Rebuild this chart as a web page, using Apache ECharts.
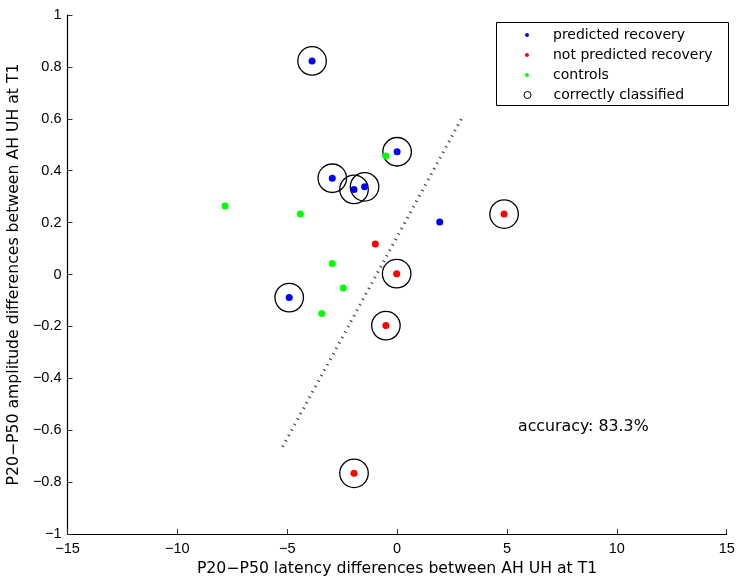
<!DOCTYPE html>
<html>
<head>
<meta charset="utf-8">
<script src="https://cdn.jsdelivr.net/npm/echarts@6/dist/echarts.min.js"></script>
<style>
html,body{margin:0;padding:0;background:#fff;}
#chart{width:736px;height:577px;}
</style>
</head>
<body>
<div id="chart"></div>
<script>
// ---- data ----
var predictedX = [-3.87, 0.0, -2.95, -1.96, -1.48, 1.94, -4.91];
var predictedY = [0.823, 0.473, 0.371, 0.328, 0.338, 0.202, -0.089];
var predictedCorrect = [1, 1, 1, 1, 1, 0, 1];

var notPredictedX = [-0.99, -0.02, -0.51, 4.87, -1.96];
var notPredictedY = [0.118, 0.003, -0.197, 0.233, -0.766];
var notPredictedCorrect = [0, 1, 1, 1, 1];

var controlsX = [-0.51, -4.40, -7.83, -2.95, -2.45, -3.43];
var controlsY = [0.457, 0.233, 0.264, 0.042, -0.052, -0.150];

var boundaryX = [-5.21, 2.94];
var boundaryY = [-0.664, 0.602];

var xTicks = [-15, -10, -5, 0, 5, 10, 15];
var yTicks = [-1, -0.8, -0.6, -0.4, -0.2, 0, 0.2, 0.4, 0.6, 0.8, 1];

var accuracyText = 'accuracy: 83.3%';
var seriesNames = ['predicted recovery', 'not predicted recovery', 'controls', 'correctly classified'];

// ---- build ----
function pairs(xs, ys) { return xs.map(function (x, i) { return [x, ys[i]]; }); }
function correctPairs(xs, ys, flags) {
  var out = [];
  xs.forEach(function (x, i) { if (flags[i]) out.push([x, ys[i]]); });
  return out;
}
var circled = correctPairs(predictedX, predictedY, predictedCorrect)
  .concat(correctPairs(notPredictedX, notPredictedY, notPredictedCorrect));

function fmt(v) {
  var s = String(Math.round(v * 10) / 10);
  return s.replace('-', '\u2212');
}

var tickFont = 'Liberation Sans';
var textFont = 'DejaVu Sans';

var chart = echarts.init(document.getElementById('chart'), null, { renderer: 'canvas' });
var option = {
  backgroundColor: '#fff',
  animation: false,
  grid: { left: 67.5, right: 9.3, top: 15, bottom: 43, containLabel: false, outerBoundsMode: 'none' },
  xAxis: {
    type: 'value', min: xTicks[0], max: xTicks[xTicks.length - 1], interval: 5,
    name: 'P20\u2212P50 latency differences between AH UH at T1',
    nameLocation: 'middle', nameGap: 22,
    nameTextStyle: { fontFamily: textFont, fontSize: 15.7, color: '#000' },
    axisLine: { show: true, onZero: false, lineStyle: { color: '#000', width: 1.2 } },
    axisTick: { show: true, inside: true, length: 5, lineStyle: { color: '#333', width: 1 } },
    axisLabel: { show: true, margin: 7, color: '#000', fontFamily: tickFont, fontSize: 14.5, formatter: fmt, showMinLabel: true, showMaxLabel: true },
    splitLine: { show: false }
  },
  yAxis: {
    type: 'value', min: yTicks[0], max: yTicks[yTicks.length - 1], interval: 0.2,
    name: 'P20\u2212P50 amplitude differences between AH UH at T1',
    nameLocation: 'middle', nameGap: 35,
    nameTextStyle: { fontFamily: textFont, fontSize: 15.7, color: '#000' },
    axisLine: { show: true, onZero: false, lineStyle: { color: '#000', width: 1.2 } },
    axisTick: { show: true, inside: true, length: 5, lineStyle: { color: '#333', width: 1 } },
    axisLabel: { show: true, margin: 6, color: '#000', fontFamily: tickFont, fontSize: 14.5, formatter: fmt, showMinLabel: true, showMaxLabel: true },
    splitLine: { show: false }
  },
  legend: [
    {
      data: [
        { name: seriesNames[0], icon: 'circle' },
        { name: seriesNames[1], icon: 'circle' },
        { name: seriesNames[2], icon: 'circle' }
      ],
      orient: 'vertical', left: 525, top: 25, padding: 0,
      itemWidth: 4, itemHeight: 4, itemGap: 0,
      selectedMode: false,
      textStyle: { fontFamily: textFont, fontSize: 14, lineHeight: 20, color: '#000', padding: [0, 0, 0, 19] }
    },
    {
      data: [{ name: seriesNames[3], icon: 'circle' }],
      orient: 'vertical', left: 523.5, top: 85, padding: 0,
      itemWidth: 7, itemHeight: 7, itemGap: 0,
      selectedMode: false,
      itemStyle: { borderWidth: 1 },
      textStyle: { fontFamily: textFont, fontSize: 14, lineHeight: 20, color: '#000', padding: [0, 0, 0, 17.5] }
    }
  ],
  graphic: [
    { type: 'rect', shape: { x: 496.5, y: 22.5, width: 232, height: 83 }, style: { fill: 'none', stroke: '#000', lineWidth: 1 }, z: 100 },
    { type: 'text', x: 518, y: 427, style: { text: accuracyText, fontFamily: textFont, fontSize: 15.8, fill: '#000', verticalAlign: 'middle', align: 'left' }, z: 100 }
  ],
  series: [
    {
      name: 'boundary', type: 'line', data: pairs(boundaryX, boundaryY),
      showSymbol: false, symbol: 'none', silent: true,
      lineStyle: { color: '#444', width: 3, type: [1.2, 5] }, z: 1
    },
    {
      name: seriesNames[3], type: 'scatter', data: circled, symbol: 'circle', symbolSize: 28.5,
      itemStyle: { color: 'rgba(0,0,0,0)', borderColor: '#000', borderWidth: 1.3, opacity: 1 }, z: 2
    },
    {
      name: seriesNames[2], type: 'scatter', data: pairs(controlsX, controlsY), symbol: 'circle', symbolSize: 7,
      itemStyle: { color: '#00ff00', opacity: 1 }, z: 3
    },
    {
      name: seriesNames[0], type: 'scatter', data: pairs(predictedX, predictedY), symbol: 'circle', symbolSize: 7,
      itemStyle: { color: '#0000ff', opacity: 1 }, z: 4
    },
    {
      name: seriesNames[1], type: 'scatter', data: pairs(notPredictedX, notPredictedY), symbol: 'circle', symbolSize: 7,
      itemStyle: { color: '#ff0000', opacity: 1 }, z: 4
    }
  ]
};
chart.setOption(option);
</script>
</body>
</html>
